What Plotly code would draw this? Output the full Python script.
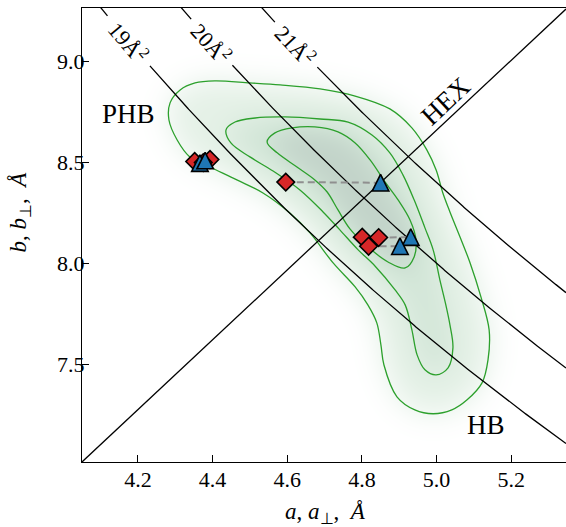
import numpy as np
import plotly.graph_objects as go

# ---- measured lattice parameters (Å) ----
diamond_a = [4.352, 4.393, 4.375, 4.596, 4.801, 4.845, 4.818]
diamond_b = [8.505, 8.515, 8.500, 8.403, 8.130, 8.128, 8.085]
triangle_a = [4.366, 4.380, 4.850, 4.931, 4.902]
triangle_b = [8.497, 8.510, 8.400, 8.130, 8.085]
# diamond -> triangle pairs joined by dashed guides
pair_diamond = [3, 5, 6]
pair_triangle = [2, 3, 4]

# ---- iso-density contours of the (a, b) distribution, outer to inner ----
c1_a = [4.313, 4.286, 4.283, 4.305, 4.339, 4.393, 4.465, 4.535, 4.607, 4.661,
        4.723, 4.782, 4.816, 4.840, 4.851, 4.859, 4.894, 4.942, 4.991, 5.041,
        5.082, 5.122, 5.138, 5.141, 5.119, 5.090, 5.063, 5.036, 5.017, 4.999,
        4.974, 4.934, 4.875, 4.782, 4.688, 4.581, 4.500, 4.406, 4.353]
c1_b = [8.860, 8.796, 8.711, 8.612, 8.528, 8.478, 8.414, 8.349, 8.250, 8.151,
        8.002, 7.883, 7.794, 7.705, 7.596, 7.497, 7.338, 7.273, 7.254, 7.273,
        7.323, 7.407, 7.521, 7.670, 7.834, 8.002, 8.131, 8.255, 8.349, 8.463,
        8.563, 8.672, 8.766, 8.830, 8.865, 8.885, 8.895, 8.905, 8.895]

c2_a = [4.436, 4.449, 4.500, 4.562, 4.634, 4.696, 4.741, 4.790, 4.835, 4.889,
        4.916, 4.934, 4.948, 4.969, 4.999, 5.031, 5.044, 5.036, 5.025, 5.009,
        4.991, 4.969, 4.940, 4.910, 4.875, 4.827, 4.763, 4.688, 4.594, 4.514,
        4.460]
c2_b = [8.662, 8.597, 8.528, 8.458, 8.364, 8.255, 8.166, 8.067, 7.987, 7.868,
        7.794, 7.670, 7.546, 7.472, 7.447, 7.482, 7.581, 7.695, 7.794, 7.918,
        8.067, 8.176, 8.315, 8.439, 8.548, 8.637, 8.701, 8.716, 8.726, 8.721,
        8.701]

c3_a = [4.546, 4.573, 4.626, 4.674, 4.707, 4.736, 4.768, 4.816, 4.870, 4.916,
        4.940, 4.945, 4.929, 4.897, 4.862, 4.822, 4.782, 4.736, 4.674, 4.613,
        4.567]
c3_b = [8.602, 8.548, 8.478, 8.414, 8.354, 8.265, 8.171, 8.082, 8.007, 7.977,
        8.032, 8.116, 8.215, 8.315, 8.404, 8.513, 8.597, 8.652, 8.677, 8.672,
        8.647]

# ---- reference lines ----
area_values = [19, 20, 21]            # area per chain a*b/2, Å^2
area_label_a = [4.176, 4.398, 4.623]
area_label_angle = [50, 48, 47]
label_gap = 0.055

x_ticks = [4.2, 4.4, 4.6, 4.8, 5.0, 5.2]
y_ticks = [7.5, 8.0, 8.5, 9.0]
a_range = [4.05, 5.347]
b_range = [np.sqrt(3) * 4.05, np.sqrt(3) * 5.35]

FONT = "Liberation Serif"
GREEN = "#2ca02c"


def inside(px, py, vx, vy):
    """Even-odd point-in-polygon test on a grid."""
    vx = np.asarray(vx)
    vy = np.asarray(vy)
    res = np.zeros(px.shape, dtype=bool)
    j = len(vx) - 1
    for i in range(len(vx)):
        xi, yi, xj, yj = vx[i], vy[i], vx[j], vy[j]
        cross = ((yi > py) != (yj > py)) & (
            px < (xj - xi) * (py - yi) / (yj - yi + 1e-12) + xi)
        res ^= cross
        j = i
    return res


def blur(z, sigma):
    r = int(3 * sigma)
    k = np.exp(-0.5 * (np.arange(-r, r + 1) / sigma) ** 2)
    k /= k.sum()
    z = np.apply_along_axis(lambda m: np.convolve(m, k, mode="same"), 0, z)
    z = np.apply_along_axis(lambda m: np.convolve(m, k, mode="same"), 1, z)
    return z


# smooth density shading built from the nested contours
ga = np.linspace(a_range[0], a_range[1], 243)
gb = np.linspace(b_range[0], b_range[1], 228)
A, B = np.meshgrid(ga, gb)
Z = np.zeros_like(A)
for ca, cb in [(c1_a, c1_b), (c2_a, c2_b), (c3_a, c3_b)]:
    Z += inside(A, B, ca, cb).astype(float)
Z = blur(Z, 7.0)

fig = go.Figure()

fig.add_trace(go.Heatmap(
    x=ga, y=gb, z=Z, zsmooth="best", showscale=False, hoverinfo="skip",
    zmin=0, zmax=3,
    colorscale=[[0.0, "#ffffff"], [0.12, "#f4f9f5"], [0.33, "#e5f1e7"],
                [0.66, "#d3e6d8"], [1.0, "#c2d3c9"]],
))

for ca, cb in [(c1_a, c1_b), (c2_a, c2_b), (c3_a, c3_b)]:
    fig.add_trace(go.Scatter(
        x=list(ca) + [ca[0]], y=list(cb) + [cb[0]], mode="lines", hoverinfo="skip",
        line=dict(color=GREEN, width=1.3, shape="spline", smoothing=1.0),
    ))

# hexagonal packing line b = sqrt(3) a
hx = np.array(a_range)
fig.add_trace(go.Scatter(x=hx, y=np.sqrt(3) * hx, mode="lines",
                         line=dict(color="black", width=1.3), hoverinfo="skip"))

# constant-area hyperbolas with a gap for the inline label
for area, la in zip(area_values, area_label_a):
    xs = np.linspace(a_range[0], a_range[1], 400)
    ys = 2 * area / xs
    ys = np.where(np.abs(xs - la) < label_gap, np.nan, ys)
    fig.add_trace(go.Scatter(x=xs, y=ys, mode="lines", connectgaps=False,
                             line=dict(color="black", width=1.3), hoverinfo="skip"))

# dashed guides between paired points
for i, j in zip(pair_diamond, pair_triangle):
    fig.add_trace(go.Scatter(x=[diamond_a[i], triangle_a[j]], y=[diamond_b[i], triangle_b[j]],
                             mode="lines", hoverinfo="skip",
                             line=dict(color="#8f8f8f", width=2, dash="7px,4px")))

fig.add_trace(go.Scatter(
    x=diamond_a, y=diamond_b, mode="markers", hoverinfo="skip",
    marker=dict(symbol="diamond", size=13.5, color="#d62728",
                line=dict(color="black", width=1.6)),
))
# upward triangles centred on their points
fig.add_trace(go.Scatter(
    x=triangle_a, y=triangle_b, mode="markers", hoverinfo="skip",
    marker=dict(symbol="arrow-down", angle=180, size=16.5, standoff=8.25, color="#1f77b4",
                line=dict(color="black", width=1.6)),
))

annotations = []
for area, la, ang in zip(area_values, area_label_a, area_label_angle):
    annotations.append(dict(x=la, y=2 * area / la, text=f"{area}Å<sup>2</sup>",
                            textangle=ang, showarrow=False,
                            font=dict(family=FONT, size=22)))
annotations += [
    dict(x=4.174, y=8.743, text="PHB", showarrow=False, font=dict(family=FONT, size=27)),
    dict(x=5.132, y=7.199, text="HB", showarrow=False, font=dict(family=FONT, size=27)),
    dict(x=5.025, y=8.804, text="HEX", textangle=-43, showarrow=False,
         font=dict(family=FONT, size=27)),
    dict(xref="paper", yref="paper", x=0.503, y=-0.113, yanchor="middle",
         text="<i>a</i>,\u00a0<i>a</i><sub>⊥</sub>,\u00a0\u00a0<i>Å</i>", showarrow=False,
         font=dict(family=FONT, size=23)),
    dict(xref="paper", yref="paper", x=-0.129, y=0.551, xanchor="center", yanchor="middle",
         text="<i>b</i>,\u00a0<i>b</i><sub>⊥</sub>,\u00a0\u00a0<i>Å</i>", textangle=-90,
         showarrow=False, font=dict(family=FONT, size=23)),
]

axis_common = dict(showgrid=False, zeroline=False, showline=True, linecolor="black",
                   linewidth=1.3, ticks="inside", ticklen=7, tickwidth=1.2,
                   tickcolor="black", tickfont=dict(family=FONT, size=22, color="black"))

fig.update_layout(
    width=566, height=527, margin=dict(l=82, r=0, t=8, b=65),
    paper_bgcolor="white", plot_bgcolor="white", showlegend=False,
    font=dict(family=FONT, size=21, color="black"),
    annotations=annotations,
    xaxis=dict(range=a_range, tickvals=x_ticks, ticktext=[f"{v:.1f}" for v in x_ticks],
               mirror=True, ticklabelstandoff=-3, **axis_common),
    yaxis=dict(range=b_range, tickvals=y_ticks, ticktext=[f"{v:.1f}" for v in y_ticks],
               mirror=False, ticklabelstandoff=-8, **axis_common),
)

fig.write_html("out.html")
